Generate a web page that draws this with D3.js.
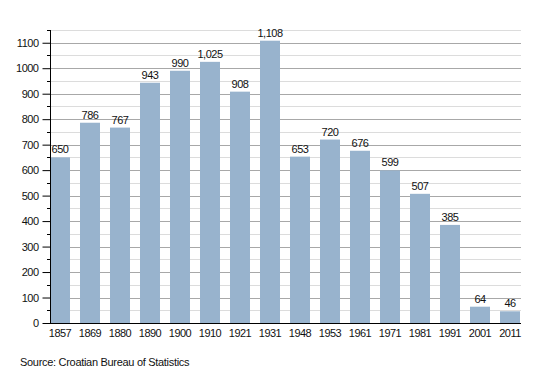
<!DOCTYPE html>
<html lang="en">
<head>
  <meta charset="UTF-8">
  <title>Population chart</title>
  <script src="https://d3js.org/d3.v7.min.js"></script>
  <style>
    body { margin: 0; background: #fff; font-family: "Liberation Sans", Arial, sans-serif; }
    text { font-size: 11px; fill: #111; }
    .num { letter-spacing: -0.5px; }
  </style>
</head>
<body>
  <div id="chart"></div>
  <script>
    const years = ["1857", "1869", "1880", "1890", "1900", "1910", "1921", "1931",
                   "1948", "1953", "1961", "1971", "1981", "1991", "2001", "2011"];
    const population = [650, 786, 767, 943, 990, 1025, 908, 1108,
                        653, 720, 676, 599, 507, 385, 64, 46];
    const majorTicks = [0, 100, 200, 300, 400, 500, 600, 700, 800, 900, 1000, 1100];
    const minorTicks = [50, 150, 250, 350, 450, 550, 650, 750, 850, 950, 1050, 1150];
    const source = "Source: Croatian Bureau of Statistics";

    const width = 550, height = 373;
    const plotLeft = 50, plotRight = 520, plotTop = 30, plotBottom = 323;

    const svg = d3.select("#chart").append("svg")
      .attr("width", width)
      .attr("height", height);

    const x = d3.scaleBand()
      .domain(years)
      .range([plotLeft, plotRight])
      .paddingInner(1 / 3)
      .paddingOuter(0);

    const y = d3.scaleLinear()
      .domain([0, 1150])
      .range([plotBottom, plotTop]);

    // gridlines
    svg.append("g")
      .selectAll("line")
      .data(minorTicks)
      .join("line")
      .attr("x1", plotLeft).attr("x2", plotRight + 1)
      .attr("y1", d => Math.round(y(d)) + 0.5)
      .attr("y2", d => Math.round(y(d)) + 0.5)
      .attr("stroke", "#dcdcdc");

    svg.append("g")
      .selectAll("line")
      .data(majorTicks.filter(d => d > 0))
      .join("line")
      .attr("x1", plotLeft).attr("x2", plotRight + 1)
      .attr("y1", d => Math.round(y(d)) + 0.5)
      .attr("y2", d => Math.round(y(d)) + 0.5)
      .attr("stroke", "#a8a8a8");

    // bars
    svg.append("g")
      .selectAll("rect")
      .data(population)
      .join("rect")
      .attr("x", (d, i) => x(years[i]))
      .attr("y", d => y(d))
      .attr("width", x.bandwidth())
      .attr("height", d => plotBottom - y(d))
      .attr("fill", "#98b3cd");

    // value labels
    svg.append("g")
      .selectAll("text")
      .data(population)
      .join("text")
      .attr("class", "num")
      .attr("x", (d, i) => x(years[i]) + x.bandwidth() / 2)
      .attr("y", d => y(d) - 4)
      .attr("text-anchor", "middle")
      .text(d => d3.format(",")(d));

    // y axis
    const yAxis = svg.append("g")
      .attr("transform", `translate(${plotLeft + 0.5},0)`)
      .call(d3.axisLeft(y).tickValues(majorTicks).tickSize(8).tickPadding(4).tickFormat(d3.format("d")));
    yAxis.select(".domain").remove();
    yAxis.selectAll("text").attr("class", "num").style("font-size", "11px").attr("fill", "#111").attr("font-family", null);
    yAxis.selectAll("line").attr("stroke", "#000");

    svg.append("g")
      .selectAll("line")
      .data(minorTicks)
      .join("line")
      .attr("x1", plotLeft - 3).attr("x2", plotLeft + 0.5)
      .attr("y1", d => Math.round(y(d)) + 0.5)
      .attr("y2", d => Math.round(y(d)) + 0.5)
      .attr("stroke", "#000");

    svg.append("line")
      .attr("x1", plotLeft + 0.5).attr("x2", plotLeft + 0.5)
      .attr("y1", plotTop).attr("y2", plotBottom)
      .attr("stroke", "#000");

    // x axis
    const xAxis = svg.append("g")
      .attr("transform", `translate(0,${plotBottom + 0.5})`)
      .call(d3.axisBottom(x).tickSize(0).tickPadding(6));
    xAxis.select(".domain").remove();
    xAxis.selectAll("text").attr("class", "num").style("font-size", "11px").attr("fill", "#111").attr("font-family", null);

    svg.append("line")
      .attr("x1", plotLeft).attr("x2", plotRight + 1)
      .attr("y1", plotBottom + 0.5).attr("y2", plotBottom + 0.5)
      .attr("stroke", "#000");

    svg.append("text")
      .attr("x", 20)
      .attr("y", 366)
      .style("letter-spacing", "-0.3px")
      .text(source);
  </script>
</body>
</html>
